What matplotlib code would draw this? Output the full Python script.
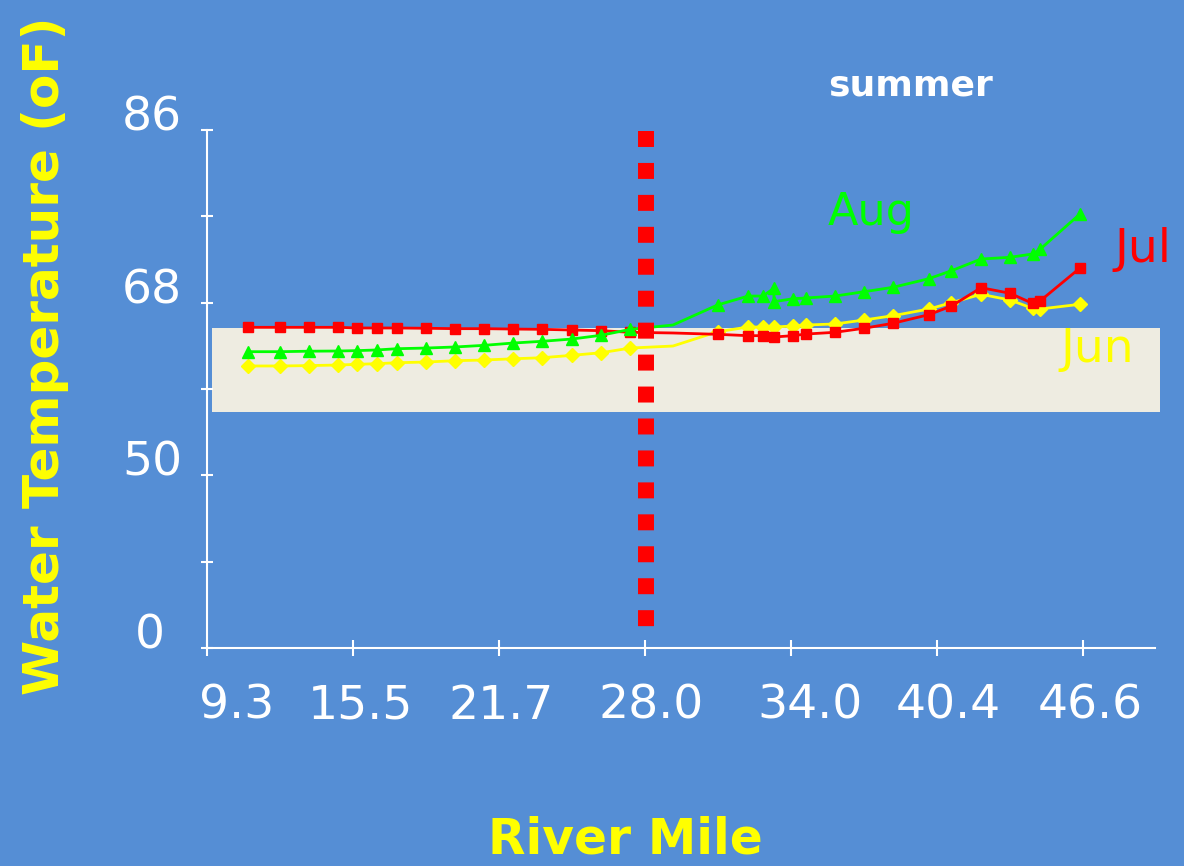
import matplotlib
matplotlib.use("Agg")
import matplotlib.pyplot as plt
from matplotlib.transforms import ScaledTranslation
from matplotlib.patches import Rectangle

# ---------------- data ----------------
river_mile = [11.03, 12.41, 13.64, 14.88, 15.69, 16.54, 17.39, 18.63, 19.86, 21.09,
              22.33, 23.56, 24.84, 26.08, 27.33, 29.14, 31.04, 32.34, 32.97, 33.44,
              34.25, 34.81, 36.04, 37.27, 38.51, 40.04, 41.00, 42.26, 43.49, 44.45,
              44.77, 46.47]
jun_temp = [61.40, 61.40, 61.44, 61.50, 61.57, 61.64, 61.74, 61.81, 61.95, 62.02,
            62.15, 62.26, 62.51, 62.78, 63.27, 63.48, 64.97, 65.46, 65.46, 65.46,
            65.57, 65.67, 65.78, 66.19, 66.64, 67.34, 68.00, 68.87, 68.28, 67.41,
            67.34, 67.83]
jul_temp = [65.43, 65.43, 65.43, 65.43, 65.36, 65.36, 65.36, 65.33, 65.29, 65.29,
            65.25, 65.22, 65.15, 65.08, 64.91, 64.84, 64.70, 64.56, 64.56, 64.42,
            64.56, 64.73, 64.91, 65.33, 65.85, 66.75, 67.65, 69.56, 68.98, 67.93,
            68.17, 71.61]
aug_mile = [11.03, 12.41, 13.64, 14.88, 15.69, 16.54, 17.39, 18.63, 19.86, 21.09,
            22.33, 23.56, 24.84, 26.08, 27.33, 29.14, 31.04, 32.34, 32.97, 33.44,
            33.44, 34.25, 34.81, 36.04, 37.27, 38.51, 40.04, 41.00, 42.26, 43.49,
            44.45, 44.77, 46.47]
aug_temp = [62.89, 62.89, 62.94, 62.96, 63.00, 63.07, 63.20, 63.27, 63.38, 63.55,
            63.79, 63.97, 64.21, 64.60, 65.22, 65.67, 67.76, 68.69, 68.69, 69.50,
            68.10, 68.41, 68.49, 68.69, 69.14, 69.60, 70.50, 71.33, 72.55, 72.73,
            73.07, 73.56, 77.24]

x_tick_labels = ["9.3", "15.5", "21.7", "28.0", "34.0", "40.4", "46.6"]
y_tick_values = [32, 41, 50, 59, 68, 77, 86]
y_tick_labels = ["0", "", "50", "", "68", "", "86"]
band_low, band_high = 56.6, 65.36
divider_mile = 28.0

BG = "#558ED5"
BAND = "#EEECE1"

fig = plt.figure(figsize=(11.84, 8.66), dpi=100)
fig.patch.set_facecolor(BG)
ax = fig.add_axes([207 / 1184, 1 - 648 / 866, (1155 - 207) / 1184, (648 - 130) / 866])
ax.set_facecolor(BG)

x0, x1 = 9.3, 46.6
step = (x1 - x0) / 6
ax.set_xlim(x0, x0 + 948 / 146 * step)
ax.set_ylim(32, 86)

# shaded band
ax.add_patch(Rectangle((9.51, band_low), 49.88 - 9.51, band_high - band_low,
                       facecolor=BAND, edgecolor="none", zorder=1, clip_on=False))

skip = 15
ax.plot(river_mile, jun_temp, color="#FFFF00", lw=2, marker="D", ms=7.5,
        markevery=[i for i in range(len(river_mile)) if i != skip], zorder=3)
ax.plot(river_mile, jul_temp, color="#FF0000", lw=2, marker="s", ms=6.5,
        markevery=[i for i in range(len(river_mile)) if i != skip], zorder=3)
ax.plot(aug_mile, aug_temp, color="#00FF00", lw=2, marker="^", ms=8.5,
        markevery=[i for i in range(len(aug_mile)) if i != skip], zorder=3)

# dotted divider
ln, = ax.plot([divider_mile, divider_mile], [85.9, 34.2], color="#FF0000",
              lw=11.5, solid_capstyle="butt", dash_capstyle="butt", zorder=5)
ln.set_dashes((1, 1))

# spines / ticks
for s in ["top", "right"]:
    ax.spines[s].set_visible(False)
for s in ["left", "bottom"]:
    ax.spines[s].set_color("white")
    ax.spines[s].set_linewidth(1.5)

xt = [x0 + i * step for i in range(7)]
ax.set_xticks(xt)
ax.set_xticklabels(x_tick_labels)
ax.set_yticks(y_tick_values)
ax.set_yticklabels(y_tick_labels)
ax.tick_params(axis="x", direction="inout", length=11.5, width=1.5, color="white",
               labelcolor="white", labelsize=34, pad=20)
ax.tick_params(axis="y", direction="inout", length=8.6, width=1.5, color="white",
               labelcolor="white", labelsize=34, pad=13.7)

x_off = [30, 8, 2, 6, 19, 11, 7]
for lab, dx in zip(ax.get_xticklabels(), x_off):
    lab.set_transform(lab.get_transform() + ScaledTranslation(dx / 100, 0, fig.dpi_scale_trans))
for lab in ax.get_yticklabels():
    dx = -17 if lab.get_text() == "0" else 0
    lab.set_transform(lab.get_transform() + ScaledTranslation(dx / 100, 17 / 100, fig.dpi_scale_trans))

# texts
fig.text(911 / 1184, 1 - 86 / 866, "summer", color="white", fontsize=26,
         fontweight="bold", ha="center", va="center")
ax.text(37.57, 76.1, "Aug", color="#00FF00", fontsize=32, ha="center", va="baseline")
ax.text(49.16, 72.24, "Jul", color="#FF0000", fontsize=34, ha="center", va="baseline",
        clip_on=False)
ax.text(47.2, 61.81, "Jun", color="#FFFF00", fontsize=34, ha="center", va="baseline",
        clip_on=False, zorder=6)

fig.text(625 / 1184, 1 - 853 / 866, "River Mile", color="#FFFF00", fontsize=35,
         fontweight="bold", ha="center", va="baseline")
fig.text(45 / 1184, 1 - 356 / 866, "Water Temperature (oF)", color="#FFFF00",
         fontsize=36, fontweight="bold", ha="center", va="center", rotation=90)

fig.savefig("out.png", dpi=100, facecolor=BG)
